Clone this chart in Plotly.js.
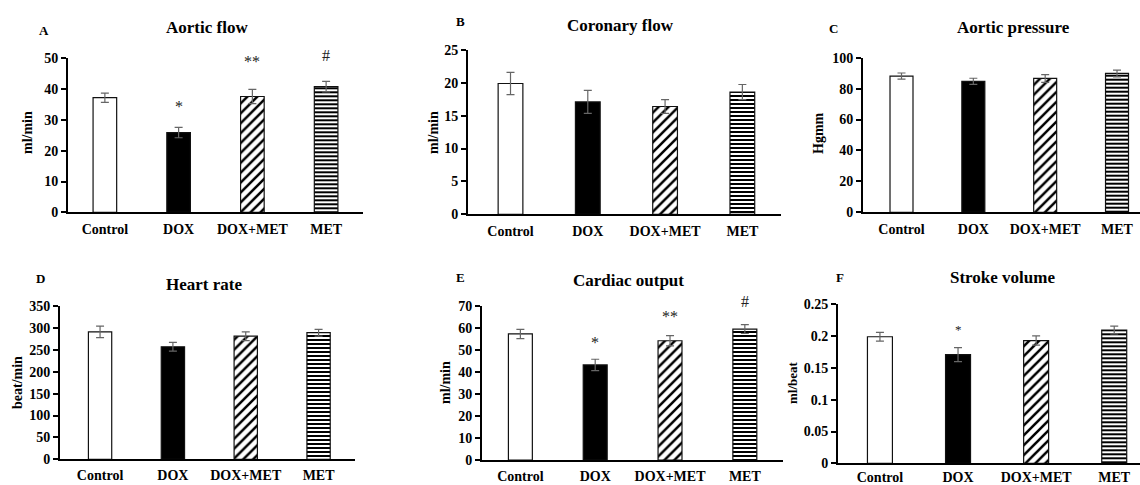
<!DOCTYPE html>
<html>
<head>
<meta charset="utf-8">
<script src="https://cdn.plot.ly/plotly-3.0.1.min.js"></script>
<style>html,body{margin:0;padding:0;background:#fff}#chart{width:1140px;height:485px}</style>
</head>
<body>
<div id="chart"></div>
<script>
// ---- data ----
const categories = ['Control', 'DOX', 'DOX+MET', 'MET'];

const aorticFlow = [37.2, 25.9, 37.6, 40.8];
const aorticFlowErr = [1.5, 1.7, 2.3, 1.7];

const coronaryFlow = [19.9, 17.1, 16.4, 18.6];
const coronaryFlowErr = [1.7, 1.75, 1.05, 1.15];

const aorticPressure = [88.1, 84.7, 86.6, 89.8];
const aorticPressureErr = [2.0, 2.0, 2.5, 2.2];

const heartRate = [291, 257, 281, 289];
const heartRateErr = [13, 10, 10, 7.6];

const cardiacOutput = [57.3, 43.2, 54.2, 59.5];
const cardiacOutputErr = [2.1, 2.6, 2.3, 2.0];

const strokeVolume = [0.199, 0.171, 0.193, 0.2096];
const strokeVolumeErr = [0.007, 0.011, 0.0073, 0.006];

// significance marks
const aorticFlowMarks = ['', '*', '**', '#'];
const cardiacOutputMarks = ['', '*', '**', '#'];
const strokeVolumeMarks = ['', '*', '', ''];

// ---- styles per group ----
const groupStyle = [
  {color: '#ffffff', shape: '', size: 8, solidity: 0.3},
  {color: '#000000', shape: '', size: 8, solidity: 0.3},
  {color: '#ffffff', shape: '/', size: 7, solidity: 0.36},
  {color: '#ffffff', shape: '-', size: 4, solidity: 0.5}
];

// ---- layout helpers ----
const W = 1140, H = 485;
const px = x => x / W;
const py = y => 1 - y / H;
const FONT = 'Liberation Serif, Times New Roman, serif';

const panels = [
  {id: '', letter: 'A', title: 'Aortic flow', ytitle: 'ml/min', vals: aorticFlow, err: aorticFlowErr,
   xd: [68, 363], yd: [58.3, 212.3], xr: [-0.5, 3.5], yr: [0, 50], dt: 10, stand: 3,
   letterPos: [44, 30], titlePos: [207, 27], ytPos: [27, 133], ytSize: 14,
   marks: aorticFlowMarks, markY: [0, 34.3, 49.0, 50.9]},
  {id: '2', letter: 'B', title: 'Coronary flow', ytitle: 'ml/min', vals: coronaryFlow, err: coronaryFlowErr,
   xd: [468, 781], yd: [50, 214.3], xr: [-0.55, 3.5], yr: [0, 25], dt: 5, stand: 3,
   letterPos: [460, 22], titlePos: [620, 25], ytPos: [433, 133], ytSize: 14},
  {id: '3', letter: 'C', title: 'Aortic pressure', ytitle: 'Hgmm', vals: aorticPressure, err: aorticPressureErr,
   xd: [863, 1140], yd: [57.7, 212.3], xr: [-0.536, 3.32], yr: [0, 100], dt: 20, stand: 3,
   letterPos: [833, 28], titlePos: [1013, 27], ytPos: [818, 133], ytSize: 14},
  {id: '4', letter: 'D', title: 'Heart rate', ytitle: 'beat/min', vals: heartRate, err: heartRateErr,
   xd: [60, 355], yd: [306, 459.3], xr: [-0.55, 3.5], yr: [0, 350], dt: 50, stand: 2,
   letterPos: [40, 278], titlePos: [204, 284], ytPos: [17, 383], ytSize: 14},
  {id: '5', letter: 'E', title: 'Cardiac output', ytitle: 'ml/min', vals: cardiacOutput, err: cardiacOutputErr,
   xd: [482, 783], yd: [306, 460], xr: [-0.513, 3.51], yr: [0, 70], dt: 10, stand: 2,
   letterPos: [460, 277], titlePos: [628, 280], ytPos: [445, 383], ytSize: 14,
   marks: cardiacOutputMarks, markY: [0, 53.6, 65.0, 72.0]},
  {id: '6', letter: 'F', title: 'Stroke volume', ytitle: 'ml/beat', vals: strokeVolume, err: strokeVolumeErr,
   xd: [838, 1140], yd: [304.3, 463.3], xr: [-0.537, 3.33], yr: [0, 0.25], dt: 0.05, stand: 0,
   letterPos: [840, 277], titlePos: [1002, 277], ytPos: [792, 383], ytSize: 13,
   marks: strokeVolumeMarks, markY: [0, 0.2105, 0, 0], markSize: 13}
];

const traces = [];
const layout = {
  width: W, height: H,
  margin: {l: 0, r: 0, t: 0, b: 0},
  paper_bgcolor: '#fff', plot_bgcolor: '#fff',
  showlegend: false,
  barmode: 'overlay',
  font: {family: FONT, color: '#000'},
  annotations: []
};

panels.forEach(p => {
  categories.forEach((cat, i) => {
    const g = groupStyle[i];
    const marker = {
      color: g.color,
      line: {color: '#111', width: 1.2}
    };
    if (g.shape) {
      marker.pattern = {shape: g.shape, fgcolor: '#000000', bgcolor: '#ffffff',
                        size: g.size, solidity: g.solidity, fillmode: 'replace'};
    }
    traces.push({
      type: 'bar',
      x: [cat],
      y: [p.vals[i]],
      xaxis: 'x' + p.id,
      yaxis: 'y' + p.id,
      width: 0.32,
      marker: marker,
      error_y: {type: 'data', array: [p.err[i]], visible: true, color: '#666', thickness: 1.2, width: 4},
      hoverinfo: 'x+y'
    });
  });

  layout['xaxis' + p.id] = {
    domain: [px(p.xd[0]), px(p.xd[1])],
    anchor: 'y' + p.id,
    type: 'category',
    categoryorder: 'array', categoryarray: categories,
    range: p.xr,
    showline: true, linecolor: '#000', linewidth: 2,
    ticks: '', showgrid: false, zeroline: false,
    ticklabelstandoff: p.stand,
    tickfont: {family: FONT, size: 14, weight: 'bold', color: '#000'},
    fixedrange: true
  };
  layout['yaxis' + p.id] = {
    domain: [py(p.yd[1]), py(p.yd[0])],
    anchor: 'x' + p.id,
    range: p.yr,
    dtick: p.dt, tick0: 0,
    showline: true, linecolor: '#000', linewidth: 2,
    ticks: 'outside', ticklen: 5, tickwidth: 2, tickcolor: '#000',
    showgrid: false, zeroline: false,
    tickfont: {family: FONT, size: 14, weight: 'bold', color: '#000'},
    fixedrange: true
  };

  layout.annotations.push({
    xref: 'paper', yref: 'paper', x: px(p.letterPos[0]), y: py(p.letterPos[1]),
    xanchor: 'center', yanchor: 'middle', showarrow: false,
    text: p.letter, font: {family: FONT, size: 13, weight: 'bold', color: '#000'}
  });
  layout.annotations.push({
    xref: 'paper', yref: 'paper', x: px(p.titlePos[0]), y: py(p.titlePos[1]),
    xanchor: 'center', yanchor: 'middle', showarrow: false,
    text: p.title, font: {family: FONT, size: 17, weight: 'bold', color: '#000'}
  });
  layout.annotations.push({
    xref: 'paper', yref: 'paper', x: px(p.ytPos[0]), y: py(p.ytPos[1]),
    xanchor: 'center', yanchor: 'middle', showarrow: false, textangle: -90,
    text: p.ytitle, font: {family: FONT, size: p.ytSize, weight: 'bold', color: '#000'}
  });

  if (p.marks) {
    const y0 = py(p.yd[1]), y1 = py(p.yd[0]);
    p.marks.forEach((m, i) => {
      if (!m) return;
      const frac = (p.markY[i] - p.yr[0]) / (p.yr[1] - p.yr[0]);
      layout.annotations.push({
        xref: 'x' + p.id, yref: 'paper', x: categories[i], y: y0 + frac * (y1 - y0),
        xanchor: 'center', yanchor: 'middle', showarrow: false,
        text: m, font: {family: FONT, size: p.markSize || 16, color: '#222'}
      });
    });
  }
});

Plotly.newPlot('chart', traces, layout, {displayModeBar: false, staticPlot: true});
</script>
</body>
</html>
